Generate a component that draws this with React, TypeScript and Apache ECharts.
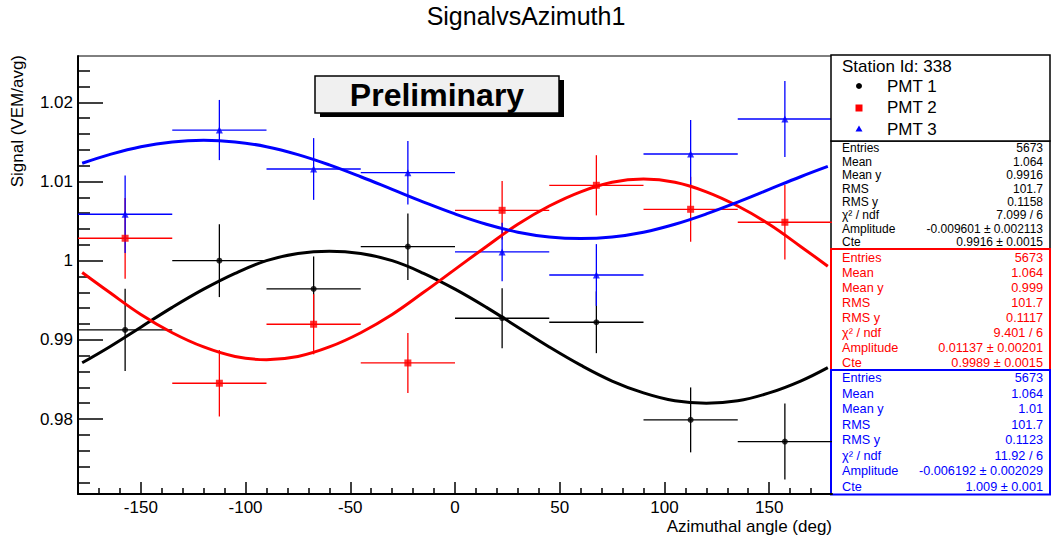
import React, { useEffect, useRef } from "react";
import * as echarts from "echarts";

const FONT = '"Liberation Sans", Arial, Helvetica, sans-serif';

// ---- data ----
const binCenters = [-157.5, -112.5, -67.5, -22.5, 22.5, 67.5, 112.5, 157.5];
const binHalfWidth = 22.5;

const pmt1Values = [0.99125, 1.0, 0.99643, 1.00177, 0.99273, 0.99222, 0.97989, 0.97715];
const pmt1Errors = [0.0052, 0.0046, 0.0041, 0.0042, 0.0038, 0.0039, 0.0041, 0.0048];
const pmt2Values = [1.00283, 0.98452, 0.99197, 0.98708, 1.00636, 1.00952, 1.00649, 1.00485];
const pmt2Errors = [0.0051, 0.0042, 0.0038, 0.0038, 0.0037, 0.0038, 0.0041, 0.0047];
const pmt3Values = [1.00586, 1.0165, 1.01158, 1.01111, 1.0011, 0.99819, 1.01347, 1.01789];
const pmt3Errors = [0.0049, 0.0038, 0.0039, 0.004, 0.0037, 0.0039, 0.0043, 0.0048];

const fitAngles = [-178, -165, -150, -135, -120, -105, -90, -75, -60, -45, -30, -15, 0, 15, 30, 45, 60, 75, 90, 105, 120, 135, 150, 165, 178];
const fit1Values = [0.9871, 0.9891, 0.9916, 0.9941, 0.9964, 0.9984, 1.0, 1.0009, 1.0012, 1.0009, 1.0, 0.9984, 0.9964, 0.9941, 0.9916, 0.9891, 0.9868, 0.9848, 0.9833, 0.9823, 0.982, 0.9823, 0.9833, 0.9848, 0.9865];
const fit2Values = [0.9985, 0.996, 0.9932, 0.9909, 0.9891, 0.9879, 0.9875, 0.9879, 0.9891, 0.9909, 0.9932, 0.996, 0.9989, 1.0018, 1.0046, 1.0069, 1.0087, 1.0099, 1.0103, 1.0099, 1.0087, 1.0069, 1.0046, 1.0018, 0.9993];
const fit3Values = [1.0123, 1.0134, 1.0144, 1.015, 1.0152, 1.015, 1.0144, 1.0134, 1.0121, 1.0106, 1.009, 1.0074, 1.0059, 1.0046, 1.0036, 1.003, 1.0028, 1.003, 1.0036, 1.0046, 1.0059, 1.0074, 1.009, 1.0106, 1.0119];

const xMajorTicks = [-150, -100, -50, 0, 50, 100, 150];
const yMajorTicks = [0.98, 0.99, 1, 1.01, 1.02];

const legendTitle = "Station Id: 338";
const legendNames = ["PMT 1", "PMT 2", "PMT 3"];
const statLabels = ["Entries", "Mean", "Mean y", "RMS", "RMS y", "\u03c7\u00b2 / ndf", "Amplitude", "Cte"];
const stats1 = ["5673", "1.064", "0.9916", "101.7", "0.1158", "7.099 / 6", "-0.009601 \u00b1 0.002113", "0.9916 \u00b1 0.0015"];
const stats2 = ["5673", "1.064", "0.999", "101.7", "0.1117", "9.401 / 6", "0.01137 \u00b1 0.00201", "0.9989 \u00b1 0.0015"];
const stats3 = ["5673", "1.064", "1.01", "101.7", "0.1123", "11.92 / 6", "-0.006192 \u00b1 0.002029", "1.009 \u00b1 0.001"];

const COLORS = ["#000000", "#ff0000", "#0000ff"];

// minor ticks (every 10 deg / every 0.002)
const xMinorTicks: number[] = [];
for (let v = -170; v <= 170; v += 10) if (v % 50 !== 0) xMinorTicks.push(v);
const yMinorTicks: number[] = [];
for (let k = 486; k <= 512; k++) {
  if (k % 5 !== 0) yMinorTicks.push(Math.round(k * 2) / 1000);
}

function errRender(color: string) {
  return (params: any, api: any) => {
    const x = api.value(0);
    const y = api.value(1);
    const ex = api.value(2);
    const ey = api.value(3);
    const l = api.coord([x - ex, y]);
    const r = api.coord([x + ex, y]);
    const t = api.coord([x, y + ey]);
    const b = api.coord([x, y - ey]);
    return {
      type: "group",
      children: [
        { type: "line", shape: { x1: l[0], y1: l[1], x2: r[0], y2: r[1] }, style: { stroke: color, lineWidth: 1.3 } },
        { type: "line", shape: { x1: t[0], y1: t[1], x2: b[0], y2: b[1] }, style: { stroke: color, lineWidth: 1.3 } },
      ],
    };
  };
}

function pmtSeries(values: number[], errors: number[], fit: number[], color: string, symbol: string, size: number) {
  return [
    {
      type: "custom",
      renderItem: errRender(color),
      data: values.map((v, i) => [binCenters[i], v, binHalfWidth, errors[i]]),
      encode: { x: 0, y: 1 },
      silent: true,
    },
    {
      type: "scatter",
      data: values.map((v, i) => [binCenters[i], v]),
      symbol,
      symbolSize: size,
      itemStyle: { color },
      silent: true,
    },
    {
      type: "line",
      data: fitAngles.map((a, i) => [a, fit[i]]),
      smooth: 0.4,
      showSymbol: false,
      lineStyle: { color, width: 3 },
      itemStyle: { color },
      silent: true,
    },
  ];
}

function statsBox(top: number, height: number, rowStart: number, rowStep: number, fontSize: number, color: string, values: string[], lw: number) {
  const children: any[] = [
    { type: "rect", shape: { x: 831, y: top, width: 219, height }, style: { fill: "#fff", stroke: color, lineWidth: lw } },
  ];
  statLabels.forEach((lab, i) => {
    const y = rowStart + i * rowStep;
    children.push({ type: "text", x: 842, y, style: { text: lab, fill: color, fontSize, fontFamily: FONT, align: "left", verticalAlign: "middle" } });
    children.push({ type: "text", x: 1043, y, style: { text: values[i], fill: color, fontSize, fontFamily: FONT, align: "right", verticalAlign: "middle" } });
  });
  return children;
}

const graphics: any[] = [
  { type: "text", x: 526, y: 16, style: { text: "SignalvsAzimuth1", fill: "#000", fontSize: 25, fontFamily: FONT, align: "center", verticalAlign: "middle" } },
  { type: "text", x: 17, y: 55, rotation: Math.PI / 2, style: { text: "Signal (VEM/avg)", fill: "#000", fontSize: 17, fontFamily: FONT, align: "right", verticalAlign: "middle" } },
  { type: "text", x: 832, y: 526, style: { text: "Azimuthal angle (deg)", fill: "#000", fontSize: 17, fontFamily: FONT, align: "right", verticalAlign: "middle" } },
  // Preliminary box
  { type: "rect", shape: { x: 320, y: 80, width: 244, height: 37 }, style: { fill: "#000" }, z: 50 },
  { type: "rect", shape: { x: 315, y: 76, width: 244, height: 37 }, style: { fill: "#f0f0f0", stroke: "#000", lineWidth: 1.5 }, z: 51 },
  { type: "text", x: 437, y: 95, z: 52, style: { text: "Preliminary", fill: "#000", fontSize: 32, fontWeight: "bold", fontFamily: FONT, align: "center", verticalAlign: "middle" } },
  // legend box
  { type: "rect", shape: { x: 831, y: 55, width: 219, height: 86 }, z: 50, style: { fill: "#fff", stroke: "#000", lineWidth: 1.5 } },
  { type: "text", x: 842, y: 66, z: 51, style: { text: legendTitle, fill: "#000", fontSize: 17, fontFamily: FONT, align: "left", verticalAlign: "middle" } },
  { type: "circle", shape: { cx: 859, cy: 86, r: 3 }, z: 51, style: { fill: COLORS[0] } },
  { type: "rect", shape: { x: 855.5, y: 104.5, width: 7, height: 7 }, z: 51, style: { fill: COLORS[1] } },
  { type: "polygon", shape: { points: [[859, 125.5], [862.5, 131.5], [855.5, 131.5]] }, z: 51, style: { fill: COLORS[2] } },
  ...legendNames.map((n, i) => ({ type: "text", x: 887, y: 86 + i * 21.6, z: 51, style: { text: n, fill: "#000", fontSize: 17, fontFamily: FONT, align: "left", verticalAlign: "middle" } })),
  { type: "group", z: 50, children: statsBox(141, 108, 148.3, 13.4, 12, COLORS[0], stats1, 1.5) },
  { type: "group", z: 50, children: statsBox(249, 121, 257.7, 15.0, 12.7, COLORS[1], stats2, 2) },
  { type: "group", z: 50, children: statsBox(370, 124.5, 378.3, 15.5, 12.7, COLORS[2], stats3, 2) },
];

const axisLineStyle = { color: "#000", width: 2 };

const option: any = {
  animation: false,
  backgroundColor: "#fff",
  grid: { left: 78, top: 56, width: 754, height: 438, show: true, borderColor: "#000", borderWidth: 1, backgroundColor: "transparent" },
  xAxis: [
    {
      type: "value", min: -180, max: 180, position: "bottom",
      axisLine: { show: true, onZero: false, lineStyle: axisLineStyle },
      axisTick: { show: true, inside: true, length: 12, customValues: xMajorTicks, lineStyle: { color: "#000", width: 1.5 } },
      axisLabel: { show: true, customValues: xMajorTicks, color: "#000", fontSize: 17, fontFamily: FONT, margin: 5 },
      splitLine: { show: false },
    },
    {
      type: "value", min: -180, max: 180, position: "bottom",
      axisLine: { show: false, onZero: false },
      axisTick: { show: true, inside: true, length: 6, customValues: xMinorTicks, lineStyle: { color: "#000", width: 1.5 } },
      axisLabel: { show: false },
      splitLine: { show: false },
    },
  ],
  yAxis: [
    {
      type: "value", min: 0.97053, max: 1.02585, position: "left",
      axisLine: { show: true, onZero: false, lineStyle: axisLineStyle },
      axisTick: { show: true, inside: true, length: 25, customValues: yMajorTicks, lineStyle: { color: "#000", width: 1.5 } },
      axisLabel: { show: true, customValues: yMajorTicks, color: "#000", fontSize: 17, fontFamily: FONT, margin: 5, formatter: (v: number) => String(Math.round(v * 1000) / 1000) },
      splitLine: { show: false },
    },
    {
      type: "value", min: 0.97053, max: 1.02585, position: "left",
      axisLine: { show: false, onZero: false },
      axisTick: { show: true, inside: true, length: 12, customValues: yMinorTicks, lineStyle: { color: "#000", width: 1.5 } },
      axisLabel: { show: false },
      splitLine: { show: false },
    },
  ],
  series: [
    ...pmtSeries(pmt1Values, pmt1Errors, fit1Values, COLORS[0], "circle", 6),
    ...pmtSeries(pmt2Values, pmt2Errors, fit2Values, COLORS[1], "rect", 7),
    ...pmtSeries(pmt3Values, pmt3Errors, fit3Values, COLORS[2], "triangle", 7),
  ],
  graphic: graphics,
};

export default function App() {
  const ref = useRef<HTMLDivElement>(null);
  useEffect(() => {
    const chart = echarts.init(ref.current!, undefined, { renderer: "svg" });
    chart.setOption(option);
    return () => chart.dispose();
  }, []);
  return <div ref={ref} style={{ position: "fixed", left: 0, top: 0, width: 1054, height: 535, background: "#fff" }} />;
}
